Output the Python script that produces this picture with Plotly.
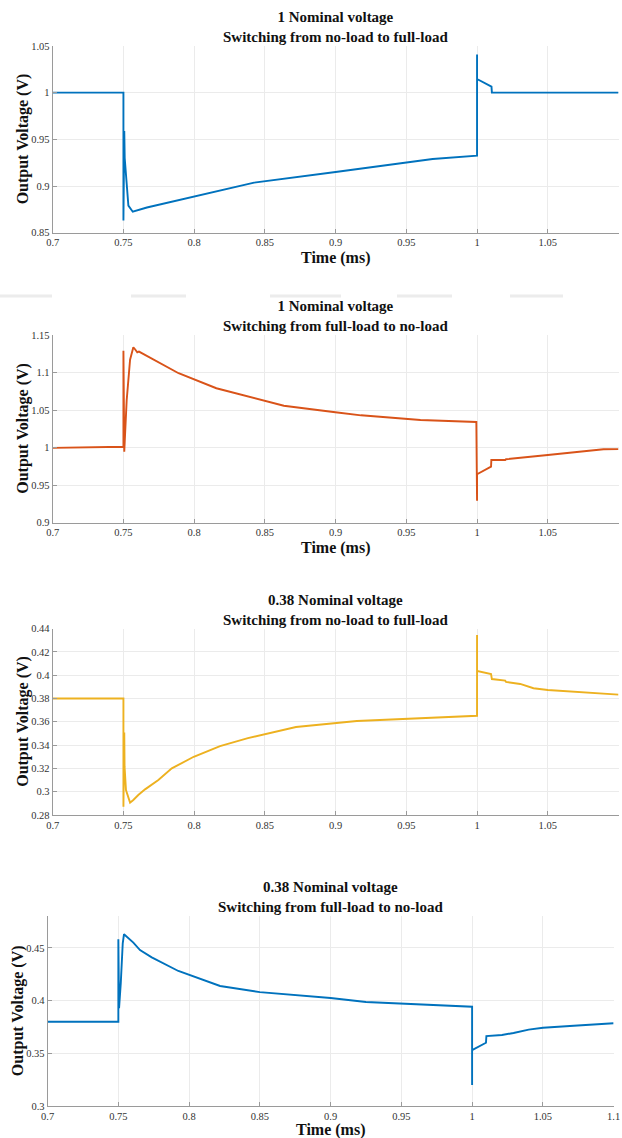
import plotly.graph_objects as go

# ---------------- data ----------------
t1 = [0.70, 0.75, 0.75, 0.7506, 0.7509, 0.7535, 0.7566, 0.7666, 0.80, 0.8424, 0.90, 0.95, 0.9686,
      1.0, 1.0, 1.0, 1.0102, 1.0105, 1.10]
v1 = [1.0, 1.0, 0.863, 0.959, 0.930, 0.879, 0.8725, 0.877, 0.889, 0.9036, 0.915, 0.925, 0.929,
      0.9325, 1.041, 1.0146, 1.0064, 1.0, 1.0]

t2 = [0.70, 0.75, 0.75, 0.7506, 0.7512, 0.7523, 0.7547, 0.7563, 0.757, 0.7582, 0.7598, 0.761, 0.775,
      0.789, 0.8157, 0.8634, 0.8998, 0.918, 0.960, 0.9995, 1.0, 1.0, 1.0099, 1.0101, 1.0199, 1.0205,
      1.05, 1.0894, 1.10]
v2 = [0.9995, 1.001, 1.129, 0.9944, 1.019, 1.063, 1.117, 1.132, 1.1336, 1.131, 1.127, 1.1278, 1.113,
      1.099, 1.079, 1.0557, 1.047, 1.0429, 1.0367, 1.034, 0.929, 0.9643, 0.9744, 0.9833, 0.9833, 0.9843,
      0.990, 0.9976, 0.9978]

t3 = [0.70, 0.75, 0.75, 0.7506, 0.7508, 0.7518, 0.7535, 0.7547, 0.757, 0.7605, 0.7653, 0.7747, 0.7842,
      0.7997, 0.8183, 0.838, 0.872, 0.915, 1.0, 1.0, 1.0, 1.0099, 1.0105, 1.0199, 1.0205, 1.0305,
      1.0399, 1.05, 1.10]
v3 = [0.38, 0.38, 0.2871, 0.3507, 0.3215, 0.3015, 0.2943, 0.2906, 0.2929, 0.2972, 0.302, 0.310, 0.320,
      0.330, 0.3392, 0.346, 0.3555, 0.3607, 0.3652, 0.4345, 0.4036, 0.401, 0.3967, 0.3953, 0.3942, 0.3925,
      0.3888, 0.3873, 0.3833]

t4 = [0.70, 0.75, 0.75, 0.7505, 0.7517, 0.7531, 0.754, 0.7559, 0.7606, 0.7653, 0.7736, 0.7924, 0.8219,
      0.85, 0.90, 0.925, 0.9775, 1.0, 1.0, 1.0, 1.0098, 1.0101, 1.0211, 1.0293, 1.04, 1.0501, 1.0718, 1.10]
v4 = [0.38, 0.38, 0.4582, 0.3927, 0.4164, 0.4544, 0.463, 0.4607, 0.455, 0.448, 0.4411, 0.4281, 0.4139,
      0.408, 0.4025, 0.3987, 0.3952, 0.3942, 0.320, 0.3531, 0.360, 0.3664, 0.3674, 0.3693, 0.3725, 0.3743,
      0.3762, 0.3785]

x_ticks = [0.7, 0.75, 0.8, 0.85, 0.9, 0.95, 1.0, 1.05, 1.1]
x_tick_text = ["0.7", "0.75", "0.8", "0.85", "0.9", "0.95", "1", "1.05", "1.1"]

y1_ticks = [0.85, 0.9, 0.95, 1.0, 1.05]
y1_text = ["0.85", "0.9", "0.95", "1", "1.05"]
y2_ticks = [0.9, 0.95, 1.0, 1.05, 1.1, 1.15]
y2_text = ["0.9", "0.95", "1", "1.05", "1.1", "1.15"]
y3_ticks = [0.28, 0.30, 0.32, 0.34, 0.36, 0.38, 0.40, 0.42, 0.44]
y3_text = ["0.28", "0.3", "0.32", "0.34", "0.36", "0.38", "0.4", "0.42", "0.44"]
y4_ticks = [0.30, 0.35, 0.40, 0.45]
y4_text = ["0.3", "0.35", "0.4", "0.45"]

titles = [
    "1 Nominal voltage<br>Switching from no-load to full-load",
    "1 Nominal voltage<br>Switching from full-load to no-load",
    "0.38 Nominal voltage<br>Switching from no-load to full-load",
    "0.38 Nominal voltage<br>Switching from full-load to no-load",
]
x_title = "Time (ms)"
y_title = "Output Voltage (V)"

colors = ["#0072BD", "#D95319", "#EDB120", "#0072BD"]

# ---------------- layout ----------------
W, H = 622, 1138
FONT = "Liberation Serif"

def px_x(p):
    return p / W

def px_y(p):
    return 1 - p / H

# panel pixel boxes: (left, right, top, bottom)
boxes = [
    (52.7, 618.5, 46.0, 232.7),
    (52.7, 618.5, 335.0, 522.5),
    (52.7, 618.5, 628.6, 815.0),
    (47.6, 613.6, 916.3, 1106.0),
]
xtitle_offsets = [25.0, 25.0, None, 23.5]
ytitle_x = [23, 23, 23, 18]
y_ranges = [[0.85, 1.05], [0.9, 1.15], [0.28, 0.44], [0.30, 0.48]]
y_ticksets = [(y1_ticks, y1_text), (y2_ticks, y2_text), (y3_ticks, y3_text), (y4_ticks, y4_text)]
series = [(t1, v1), (t2, v2), (t3, v3), (t4, v4)]

fig = go.Figure()
layout = dict(
    width=W, height=H,
    margin=dict(l=0, r=0, t=0, b=0, autoexpand=False),
    paper_bgcolor="white", plot_bgcolor="white",
    showlegend=False,
    font=dict(family=FONT, color="#333333"),
)
annotations = []
for i, ((L, R, T, B), (tx, vy)) in enumerate(zip(boxes, series)):
    n = "" if i == 0 else str(i + 1)
    fig.add_trace(go.Scatter(
        x=tx, y=vy, mode="lines",
        line=dict(color=colors[i], width=1.9),
        xaxis="x" + n, yaxis="y" + n, hoverinfo="skip",
    ))
    layout["xaxis" + n] = dict(
        domain=[px_x(L), px_x(R)], anchor="y" + n, range=[0.7, 1.1],
        tickvals=x_ticks, ticktext=x_tick_text, automargin=False,
        showgrid=True, gridcolor="#ebebeb", gridwidth=1,
        showline=True, linecolor="#9a9a9a", linewidth=1,
        ticks="inside", ticklen=4, tickcolor="#9a9a9a",
        tickfont=dict(family=FONT, size=10.5, color="#333333"),
        zeroline=False, fixedrange=True,
    )
    tv, tt = y_ticksets[i]
    layout["yaxis" + n] = dict(
        domain=[px_y(B), px_y(T)], anchor="x" + n, range=y_ranges[i],
        tickvals=tv, ticktext=tt, automargin=False,
        showgrid=True, gridcolor="#ebebeb", gridwidth=1,
        showline=True, linecolor="#9a9a9a", linewidth=1,
        ticks="inside", ticklen=4, tickcolor="#9a9a9a",
        tickfont=dict(family=FONT, size=10.5, color="#333333"),
        zeroline=False, fixedrange=True,
    )
    cx = (L + R) / 2
    annotations.append(dict(
        text="<b>" + titles[i] + "</b>", x=px_x(cx), y=px_y(T + 1), xref="paper", yref="paper",
        xanchor="center", yanchor="bottom", showarrow=False, align="center",
        font=dict(family=FONT, size=15, color="#111111"),
    ))
    if xtitle_offsets[i] is not None:
        annotations.append(dict(
            text="<b>" + x_title + "</b>", x=px_x(cx), y=px_y(B + xtitle_offsets[i]),
            xref="paper", yref="paper",
            xanchor="center", yanchor="middle", showarrow=False,
            font=dict(family=FONT, size=16, color="#111111"),
        ))
    annotations.append(dict(
        text="<b>" + y_title + "</b>", x=px_x(ytitle_x[i]), y=px_y((T + B) / 2), xref="paper", yref="paper",
        xanchor="center", yanchor="middle", showarrow=False, textangle=-90,
        font=dict(family=FONT, size=16, color="#111111"),
    ))

layout["annotations"] = annotations

# faint separator fragments between first and second panels
shapes = []
for a, b in [(0, 52), (131, 186), (270, 341), (397, 452), (510, 563)]:
    shapes.append(dict(type="line", xref="paper", yref="paper",
                       x0=px_x(a), x1=px_x(b), y0=px_y(296), y1=px_y(296),
                       line=dict(color="#ececec", width=3)))
layout["shapes"] = shapes

fig.update_layout(**layout)
fig.write_html(
    "out.html",
    config={"displayModeBar": False},
    post_script="document.body.style.margin='0';document.body.style.padding='0';"
                "document.body.style.overflow='hidden';",
)
